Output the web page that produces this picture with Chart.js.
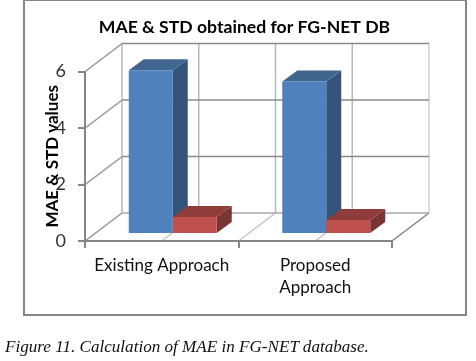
<!DOCTYPE html>
<html>
<head>
<meta charset="utf-8">
<script src="https://cdn.jsdelivr.net/npm/chart.js@4"></script>
<style>
html, body { margin: 0; padding: 0; background: #fff; }
#wrap { position: relative; width: 476px; height: 361px; overflow: hidden; }
canvas { position: absolute; left: 0; top: 0; }
#caption { position: absolute; left: 5px; top: 337px; font: italic 17.1px "Liberation Serif", serif; color: #111; white-space: nowrap; }
</style>
</head>
<body>
<div id="wrap">
<canvas id="myChart" width="476" height="361"></canvas>
<div id="caption">Figure 11. Calculation of MAE in FG-NET database.</div>
</div>
<script>
const categories = ['Existing Approach', ['Proposed', 'Approach']];
const maeValues = [5.8, 5.4];
const stdValues = [0.6, 0.5];
const yTicks = [0, 2, 4, 6];

// depth of the fake 3D box and of the bars
const wallDx = 37, wallDy = -28;
const barShiftX = 11, barShiftY = -7;
const barDx = 15, barDy = -11;

function line(ctx, x1, y1, x2, y2, color, width) {
    ctx.beginPath();
    ctx.moveTo(x1, y1);
    ctx.lineTo(x2, y2);
    ctx.strokeStyle = color;
    ctx.lineWidth = width;
    ctx.stroke();
}

function face(ctx, pts, color) {
    ctx.beginPath();
    ctx.moveTo(pts[0][0], pts[0][1]);
    for (const p of pts.slice(1)) ctx.lineTo(p[0], p[1]);
    ctx.closePath();
    ctx.fillStyle = color;
    ctx.fill();
}

const box3d = {
    id: 'box3d',
    beforeDraw(chart) {
        const ctx = chart.ctx;
        const x = chart.scales.x, y = chart.scales.y;
        ctx.save();
        // outer frame
        ctx.strokeStyle = '#868686';
        ctx.lineWidth = 2;
        ctx.strokeRect(24, 0, 442, 315);

        const base = y.getPixelForValue(0);
        const xs = [x.left, x.getPixelForValue(0), (x.getPixelForValue(0) + x.getPixelForValue(1)) / 2, x.getPixelForValue(1), x.right];

        // floor
        xs.forEach((px, i) => {
            const color = i === 4 ? '#808080' : '#c4c4c4';
            line(ctx, px, base, px + wallDx, base + wallDy, color, 1.5);
        });
        // back wall verticals
        xs.forEach((px, i) => {
            const color = i === 4 ? '#d2d2d2' : '#b8b8b8';
            line(ctx, px + wallDx, y.getPixelForValue(6) + wallDy, px + wallDx, base + wallDy, color, 1.5);
        });
        // back wall horizontals and left wall diagonals
        yTicks.forEach(v => {
            const py = y.getPixelForValue(v);
            line(ctx, x.left + wallDx, py + wallDy, x.right + wallDx, py + wallDy, v === 0 ? '#a8a8a8' : '#8a8a8a', 1.5);
            line(ctx, x.left, py, x.left + wallDx, py + wallDy, '#a0a0a0', 1.5);
        });
        ctx.restore();
    },
    beforeDatasetsDraw(chart) {
        const ctx = chart.ctx;
        ctx.save();
        ctx.translate(barShiftX, barShiftY);
        chart.data.datasets.forEach((ds, i) => {
            chart.getDatasetMeta(i).data.forEach(bar => {
                const l = bar.x - bar.width / 2, r = bar.x + bar.width / 2;
                const t = bar.y, b = bar.base;
                face(ctx, [[r, t], [r + barDx, t + barDy], [r + barDx, b + barDy], [r, b]], ds.sideColor);
                face(ctx, [[l, t], [l + barDx, t + barDy], [r + barDx, t + barDy], [r, t]], ds.topColor);
                bar.draw(ctx);
            });
        });
        ctx.restore();
        return false;
    }
};

var ctx = document.getElementById('myChart').getContext('2d');
var myBarChart = new Chart(ctx, {
    type: 'bar',
    data: {
        labels: categories,
        datasets: [
            { label: 'MAE', data: maeValues, backgroundColor: '#4f81bd', sideColor: '#34547c', topColor: '#40668f' },
            { label: 'STD', data: stdValues, backgroundColor: '#c0504d', sideColor: '#793533', topColor: '#8f3c3b' }
        ]
    },
    plugins: [box3d],
    options: {
        responsive: false,
        animation: false,
        layout: { padding: { left: 42, right: 29, top: 0, bottom: 60 } },
        categoryPercentage: 0.573,
        barPercentage: 1,
        plugins: {
            legend: { display: false },
            tooltip: { enabled: false },
            title: {
                display: true,
                text: 'MAE & STD obtained for FG-NET DB',
                color: '#000',
                font: { family: 'Lato', size: 17.6, weight: 'bold', lineHeight: 1.2 },
                padding: { top: 17, bottom: 33.5 }
            }
        },
        scales: {
            x: {
                grid: { drawOnChartArea: false, color: '#868686', lineWidth: 2, tickLength: 7, offset: true },
                border: { color: '#868686', width: 2 },
                ticks: { color: '#111', font: { family: 'Lato', size: 17, lineHeight: 1.3 }, padding: 6, maxRotation: 0, autoSkip: false },
                afterFit(scale) { scale.height = 60; }
            },
            y: {
                min: 0,
                max: 6,
                grid: { drawOnChartArea: false, color: '#868686', lineWidth: 2, tickLength: 7 },
                border: { color: '#868686', width: 2 },
                ticks: { stepSize: 2, color: '#333', font: { family: 'Lato', size: 18 }, padding: 12 },
                title: {
                    display: true,
                    text: 'MAE & STD values',
                    color: '#000',
                    font: { family: 'Lato', size: 17, weight: 'bold', lineHeight: 1.2 },
                    padding: 0
                },
                afterFit(scale) { scale.width = 43; }
            },
            // empty axis, only keeps room for the depth on the right side
            depth: {
                type: 'linear',
                position: 'right',
                grid: { display: false },
                border: { display: false },
                ticks: { display: false },
                afterFit(scale) { scale.width = 55; }
            }
        }
    }
});
</script>
</body>
</html>
